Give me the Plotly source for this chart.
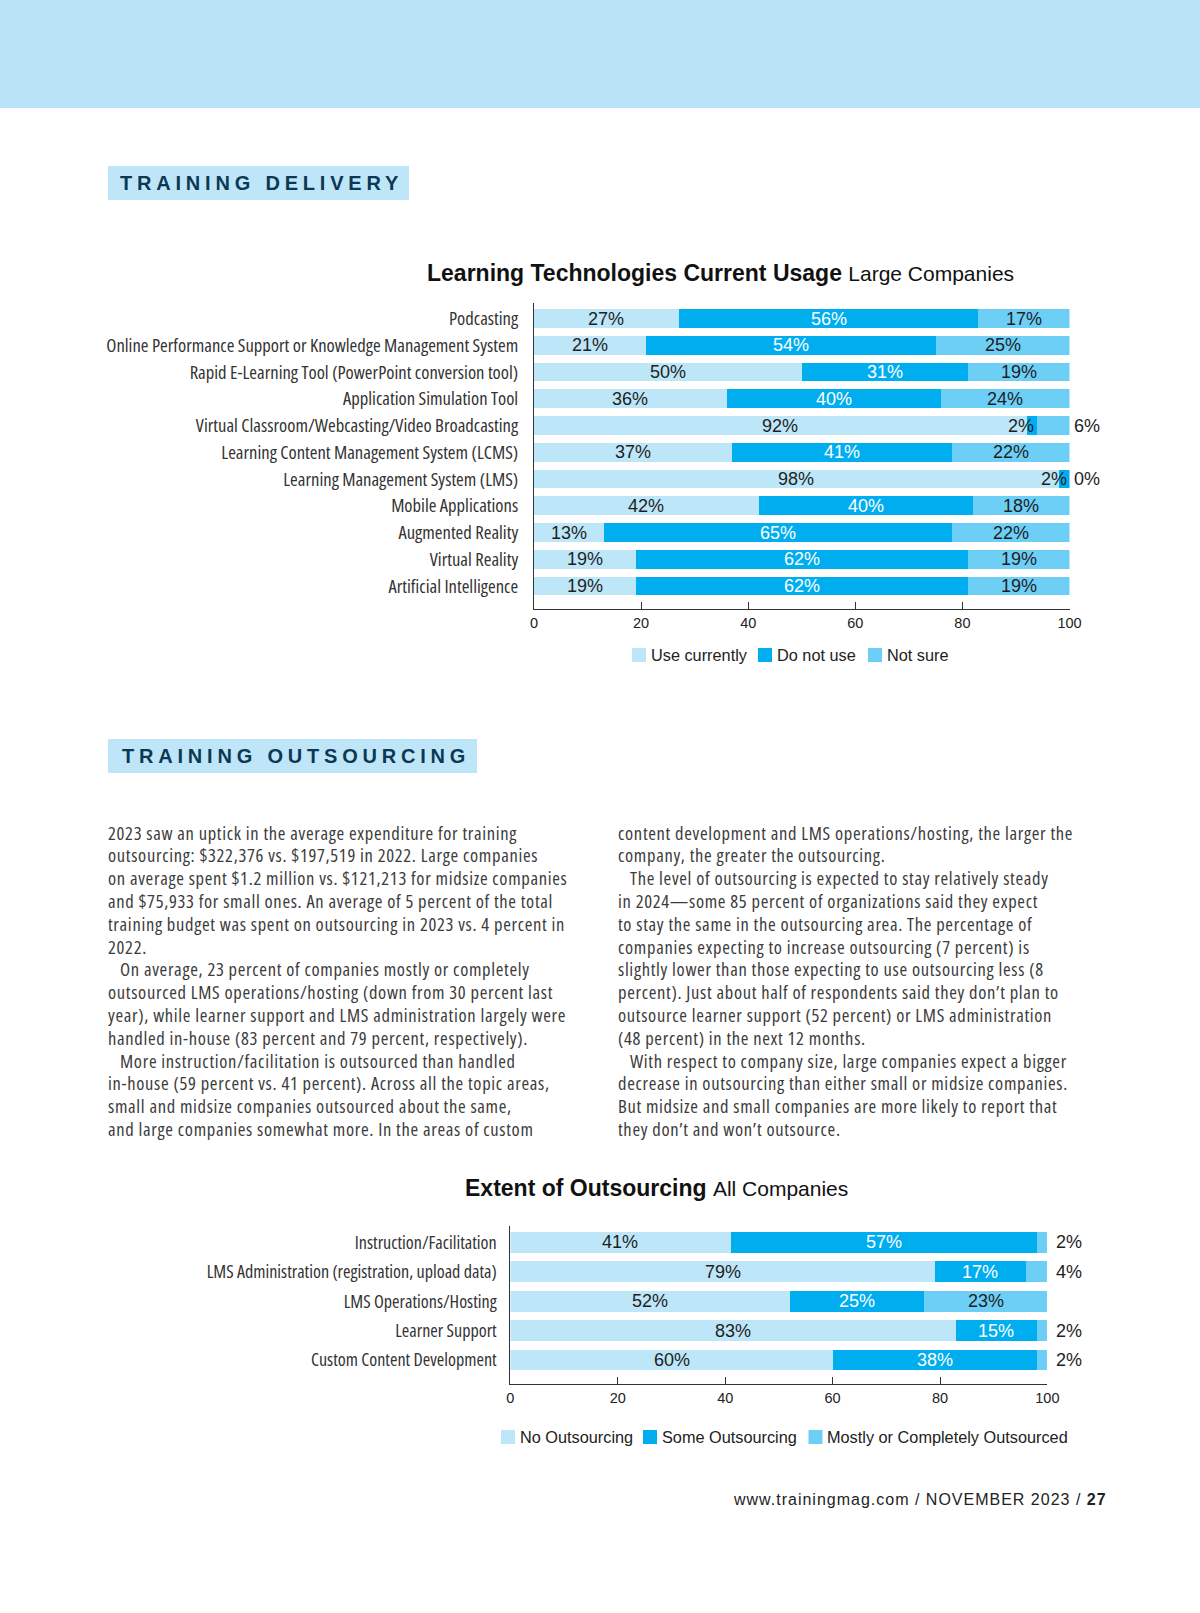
import plotly.graph_objects as go

W, H = 1200, 1613


def px(x):
    return x / W


def py(y):
    return 1 - y / H


# ---------------- data ----------------
tech_categories = [
    "Podcasting",
    "Online Performance Support or Knowledge Management System",
    "Rapid E-Learning Tool (PowerPoint conversion tool)",
    "Application Simulation Tool",
    "Virtual Classroom/Webcasting/Video Broadcasting",
    "Learning Content Management System (LCMS)",
    "Learning Management System (LMS)",
    "Mobile Applications",
    "Augmented Reality",
    "Virtual Reality",
    "Artificial Intelligence",
]
use_currently = [27, 21, 50, 36, 92, 37, 98, 42, 13, 19, 19]
do_not_use = [56, 54, 31, 40, 2, 41, 2, 40, 65, 62, 62]
not_sure = [17, 25, 19, 24, 6, 22, 0, 18, 22, 19, 19]
tech_series_names = ["Use currently", "Do not use", "Not sure"]

out_categories = [
    "Instruction/Facilitation",
    "LMS Administration (registration, upload data)",
    "LMS Operations/Hosting",
    "Learner Support",
    "Custom Content Development",
]
no_outsourcing = [41, 79, 52, 83, 60]
some_outsourcing = [57, 17, 25, 15, 38]
mostly_outsourced = [2, 4, 23, 2, 2]
out_series_names = ["No Outsourcing", "Some Outsourcing", "Mostly or Completely Outsourced"]

x_ticks = [0, 20, 40, 60, 80, 100]

left_column = [
    "2023 saw an uptick in the average expenditure for training",
    "outsourcing: $322,376 vs. $197,519 in 2022. Large companies",
    "on average spent $1.2 million vs. $121,213 for midsize companies",
    "and $75,933 for small ones. An average of 5 percent of the total",
    "training budget was spent on outsourcing in 2023 vs. 4 percent in",
    "2022.",
    " On average, 23 percent of companies mostly or completely",
    "outsourced LMS operations/hosting (down from 30 percent last",
    "year), while learner support and LMS administration largely were",
    "handled in-house (83 percent and 79 percent, respectively).",
    " More instruction/facilitation is outsourced than handled",
    "in-house (59 percent vs. 41 percent). Across all the topic areas,",
    "small and midsize companies outsourced about the same,",
    "and large companies somewhat more. In the areas of custom",
]
right_column = [
    "content development and LMS operations/hosting, the larger the",
    "company, the greater the outsourcing.",
    " The level of outsourcing is expected to stay relatively steady",
    "in 2024\u2014some 85 percent of organizations said they expect",
    "to stay the same in the outsourcing area. The percentage of",
    "companies expecting to increase outsourcing (7 percent) is",
    "slightly lower than those expecting to use outsourcing less (8",
    "percent). Just about half of respondents said they don\u2019t plan to",
    "outsource learner support (52 percent) or LMS administration",
    "(48 percent) in the next 12 months.",
    " With respect to company size, large companies expect a bigger",
    "decrease in outsourcing than either small or midsize companies.",
    "But midsize and small companies are more likely to report that",
    "they don\u2019t and won\u2019t outsource.",
]

# ---------------- styles ----------------
COLORS = ["#bde6f8", "#00aeef", "#6dcff6"]
DARK = "#1e1e1e"
GREY = "#333333"
NAVY = "#0b3954"
SANS = "Liberation Sans"
COND = "Open Sans"
SMALL = 10  # segments below this share get their label beside the bar

# legend layout (pixel positions of swatches / text starts, row centre)
LEGEND1 = dict(swatch_x=[632, 758, 868], text_x=[651, 777, 887], y=655)
LEGEND2 = dict(swatch_x=[501, 643, 808.5], text_x=[520, 662, 827], y=1437)
SWATCH = 14


def condensed(t, stretch="75%", spacing=None):
    extra = f";letter-spacing:{spacing}px" if spacing is not None else ""
    return f"<span style='font-stretch:{stretch}{extra}'>{t}</span>"


fig = go.Figure()

for name, vals, col in zip(tech_series_names, [use_currently, do_not_use, not_sure], COLORS):
    fig.add_trace(go.Bar(
        x=vals, y=tech_categories, orientation="h", name=name,
        marker=dict(color=col, line=dict(width=0)),
        xaxis="x", yaxis="y", showlegend=False, hoverinfo="x+y+name",
    ))

for name, vals, col in zip(out_series_names, [no_outsourcing, some_outsourcing, mostly_outsourced], COLORS):
    fig.add_trace(go.Bar(
        x=vals, y=out_categories, orientation="h", name=name,
        marker=dict(color=col, line=dict(width=0)),
        xaxis="x2", yaxis="y2", showlegend=False, hoverinfo="x+y+name",
    ))

annotations = []
shapes = [
    dict(type="rect", xref="paper", yref="paper", x0=0, x1=1, y0=py(108), y1=1,
         fillcolor="#b9e3f7", line=dict(width=0), layer="below"),
    dict(type="rect", xref="paper", yref="paper", x0=px(108), x1=px(409), y0=py(200), y1=py(166),
         fillcolor="#bfe6f8", line=dict(width=0), layer="below"),
    dict(type="rect", xref="paper", yref="paper", x0=px(108), x1=px(477), y0=py(773), y1=py(739),
         fillcolor="#bfe6f8", line=dict(width=0), layer="below"),
]


def add_value_labels(series, cats, xref, yref, out_shift):
    for i, cat in enumerate(cats):
        left = 0
        for s, vals in enumerate(series):
            v = vals[i]
            if v >= SMALL:
                x, anchor, shift = left + v / 2, "center", 0
                color = "white" if s == 1 else DARK
            elif s == len(series) - 1:
                x, anchor, shift = 100, "left", out_shift
                color = DARK
            else:
                x, anchor, shift = left + v, "right", -1
                color = DARK
            annotations.append(dict(
                x=x, y=cat, xref=xref, yref=yref, text=f"{v}%",
                showarrow=False, xanchor=anchor, yanchor="middle", xshift=shift,
                font=dict(family=SANS, size=18, color=color),
            ))
            left += v


add_value_labels([use_currently, do_not_use, not_sure], tech_categories, "x", "y", 2)
add_value_labels([no_outsourcing, some_outsourcing, mostly_outsourced], out_categories, "x2", "y2", 7)


def add_legend(names, spec):
    for name, col, sx, tx in zip(names, COLORS, spec["swatch_x"], spec["text_x"]):
        shapes.append(dict(
            type="rect", xref="paper", yref="paper",
            x0=px(sx), x1=px(sx + SWATCH),
            y0=py(spec["y"] + SWATCH / 2), y1=py(spec["y"] - SWATCH / 2),
            fillcolor=col, line=dict(width=0),
        ))
        annotations.append(dict(
            x=px(tx - 2), y=py(spec["y"]), xref="paper", yref="paper",
            xanchor="left", yanchor="middle", showarrow=False, text=name,
            font=dict(family=SANS, size=16.3, color="#222222"),
        ))


add_legend(tech_series_names, LEGEND1)
add_legend(out_series_names, LEGEND2)

# titles
annotations.append(dict(
    x=px(425), y=py(273), xref="paper", yref="paper", xanchor="left", yanchor="middle",
    showarrow=False,
    text="<b>Learning Technologies Current Usage</b> <span style='font-size:21px'>Large Companies</span>",
    font=dict(family=SANS, size=23, color="#111111"),
))
annotations.append(dict(
    x=px(463), y=py(1188), xref="paper", yref="paper", xanchor="left", yanchor="middle",
    showarrow=False,
    text="<b>Extent of Outsourcing</b> <span style='font-size:21px'>All Companies</span>",
    font=dict(family=SANS, size=23, color="#111111"),
))

# section headers
for label, xs, yc in [("TRAINING DELIVERY", 118, 183), ("TRAINING OUTSOURCING", 120, 756)]:
    annotations.append(dict(
        x=px(xs), y=py(yc), xref="paper", yref="paper", xanchor="left", yanchor="middle",
        showarrow=False,
        text=f"<span style='letter-spacing:4.8px'><b>{label}</b></span>",
        font=dict(family=SANS, size=20, color=NAVY),
    ))

# body text
for col_x, lines in [(106, left_column), (616, right_column)]:
    for i, line in enumerate(lines):
        indent = 12 if line.startswith(" ") else 0
        annotations.append(dict(
            x=px(col_x), y=py(832 + i * 22.8), xref="paper", yref="paper",
            xanchor="left", yanchor="middle", showarrow=False, xshift=indent,
            text=condensed(line.strip(), "84%", 0.68),
            font=dict(family=COND, size=18.5, color="#3c3c3c"),
        ))

# footer
annotations.append(dict(
    x=px(1109), y=py(1499), xref="paper", yref="paper", xanchor="right", yanchor="middle",
    showarrow=False,
    text="<span style='letter-spacing:1px'>www.trainingmag.com / NOVEMBER 2023 / <b>27</b></span>",
    font=dict(family=SANS, size=16, color="#222222"),
))

axis_common = dict(
    range=[0, 100], tickvals=x_ticks, ticks="inside", ticklen=7, tickcolor=GREY,
    showline=True, linecolor=GREY, linewidth=1.2, showgrid=False, zeroline=False,
    tickfont=dict(family=SANS, size=14.5, color="#222222"), fixedrange=True, automargin=False,
)
yaxis_common = dict(
    type="category", showline=True, linecolor=GREY, linewidth=1.2, ticks="",
    showgrid=False, zeroline=False, fixedrange=True, automargin=False,
)

fig.update_layout(
    width=W, height=H, autosize=False,
    margin=dict(l=0, r=0, t=0, b=0, pad=0, autoexpand=False),
    paper_bgcolor="white", plot_bgcolor="white",
    font=dict(family=SANS, color=DARK),
    barmode="stack", bargap=0.295,
    xaxis=dict(domain=[px(534), px(1069.5)], anchor="y", **axis_common),
    yaxis=dict(domain=[py(609), py(303)], anchor="x", range=[10.86, -0.58],
               tickvals=tech_categories, ticktext=[condensed(c) for c in tech_categories],
               tickfont=dict(family=COND, size=18.6, color=GREY), ticklabelstandoff=11,
               **yaxis_common),
    xaxis2=dict(domain=[px(510.4), px(1047.4)], anchor="y2", **axis_common),
    yaxis2=dict(domain=[py(1384), py(1226)], anchor="x2", range=[4.82, -0.56],
                tickvals=out_categories, ticktext=[condensed(c) for c in out_categories],
                tickfont=dict(family=COND, size=18.1, color=GREY), ticklabelstandoff=9,
                **yaxis_common),
    annotations=annotations,
    shapes=shapes,
    showlegend=False,
)

fig.write_html(
    "out.html", config={"displayModeBar": False, "responsive": False},
    post_script="document.body.style.margin='0px';document.body.style.overflow='hidden';",
)
